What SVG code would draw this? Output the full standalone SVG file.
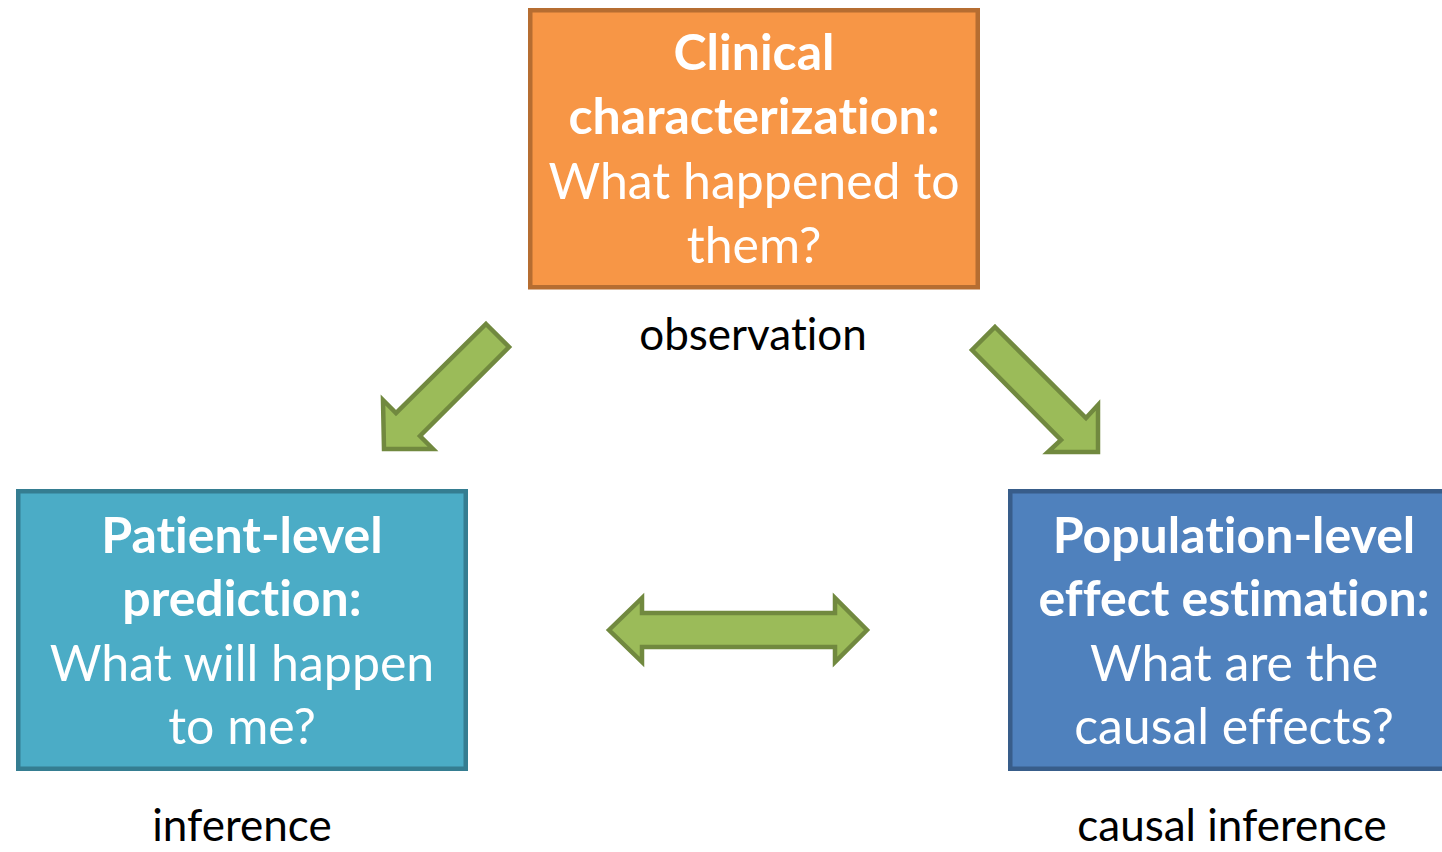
<svg xmlns="http://www.w3.org/2000/svg" width="1442" height="852" viewBox="0 0 1442 852">
<style>
.box{stroke-width:4.5}
.t{font-family:Lato,"Open Sans","Liberation Sans",sans-serif;fill:#fff;text-anchor:middle;font-size:50px;font-variant-ligatures:none}
.b{font-weight:bold}
.lbl{font-family:Lato,"Open Sans","Liberation Sans",sans-serif;fill:#000;text-anchor:middle;font-size:44px;font-variant-ligatures:none}
.arr{fill:#9BBB59;stroke:#71893F;stroke-width:4.5;stroke-linejoin:miter}
</style>
<rect width="1442" height="852" fill="#fff"/>
<g id="clinical">
<rect class="box" x="530.25" y="10.25" width="447.5" height="277" fill="#F79646" stroke="#B66D31"/>
<text class="t b" x="754" y="70">Clinical</text>
<text class="t b" x="754" y="134">characterization:</text>
<text class="t" x="754" y="199">What happened to</text>
<text class="t" x="754" y="263">them?</text>
</g>
<g id="patient">
<rect class="box" x="18.25" y="491.25" width="447.5" height="277.5" fill="#4BACC6" stroke="#357D91"/>
<text class="t b" x="242" y="553">Patient-level</text>
<text class="t b" x="242" y="616">prediction:</text>
<text class="t" x="242" y="681">What will happen</text>
<text class="t" x="242" y="744">to me?</text>
</g>
<g id="population">
<rect class="box" x="1010.25" y="491.25" width="447.5" height="277.5" fill="#4F81BD" stroke="#385D8A"/>
<text class="t b" x="1234" y="553">Population-level</text>
<text class="t b" x="1234" y="616">effect estimation:</text>
<text class="t" x="1234" y="681">What are the</text>
<text class="t" x="1234" y="744">causal effects?</text>
</g>
<g id="labels">
<text class="lbl" x="753" y="350">observation</text>
<text class="lbl" x="242" y="841">inference</text>
<text class="lbl" x="1232" y="841">causal inference</text>
</g>
<g id="connectors">
<polygon class="arr" points="486,324 509,347 420,436 433,449 384,449 383,400 396,413"/>
<polygon class="arr" points="995,327 1086,418 1098,405 1098,452 1048,452 1061,440 972,350"/>
<polygon class="arr" points="609,630 642,598 642,613 835,613 835,598 867,630 835,662 835,647 642,647 642,662"/>
</g>
</svg>
